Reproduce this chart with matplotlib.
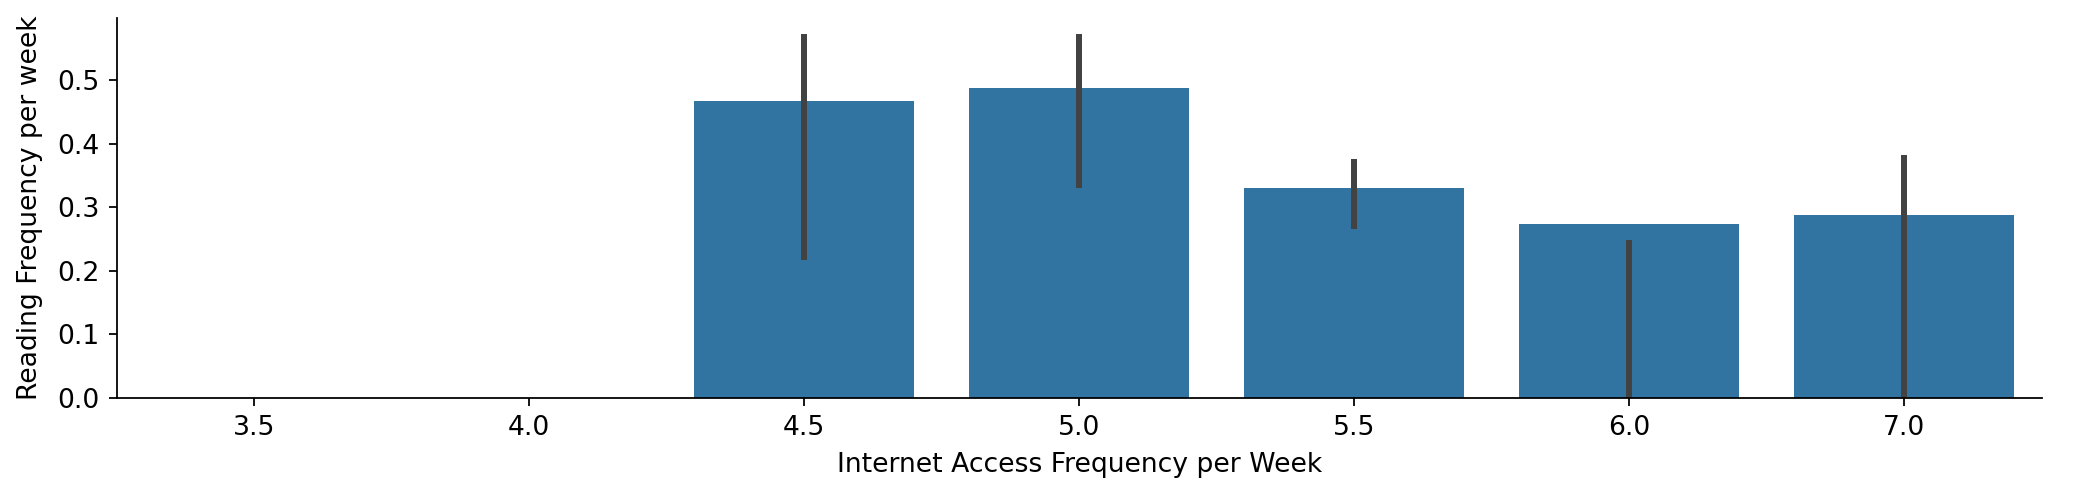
import matplotlib
matplotlib.use("Agg")
import matplotlib.pyplot as plt

# ============================================================
# Data
# ============================================================
categories = ["3.5", "4.0", "4.5", "5.0", "5.5", "6.0", "7.0"]
reading_mean = [0.0, 0.0, 0.467, 0.487, 0.330, 0.274, 0.288]
ci_low  = [None, None, 0.217, 0.330, 0.266, 0.0, 0.0]
ci_high = [None, None, 0.572, 0.572, 0.376, 0.248, 0.382]

bar_color = "#3274a1"
err_color = "#424242"

# ============================================================
# Figure
# ============================================================
plt.rcParams["font.size"] = 12
fig, ax = plt.subplots(figsize=(2089 / 160, 499 / 160), dpi=160)
fig.subplots_adjust(left=0.0559, right=0.9773, top=0.9633, bottom=0.2024)

x = list(range(len(categories)))
ax.bar(x, reading_mean, width=0.8, color=bar_color)
for xi, lo, hi in zip(x, ci_low, ci_high):
    if lo is None:
        continue
    ax.plot([xi, xi], [lo, hi], color=err_color, lw=2.7, solid_capstyle="butt")

ax.set_xticks(x)
ax.set_xticklabels(categories)
ax.set_xlim(-0.5, len(categories) - 0.5)
ax.set_ylim(0, 0.597)
ax.set_yticks([0.0, 0.1, 0.2, 0.3, 0.4, 0.5])
ax.tick_params(pad=4.2)
ax.set_xlabel("Internet Access Frequency per Week", labelpad=5)
ax.set_ylabel("Reading Frequency per week", labelpad=6.5)
ax.spines["top"].set_visible(False)
ax.spines["right"].set_visible(False)

plt.savefig("out.png", dpi=160)
